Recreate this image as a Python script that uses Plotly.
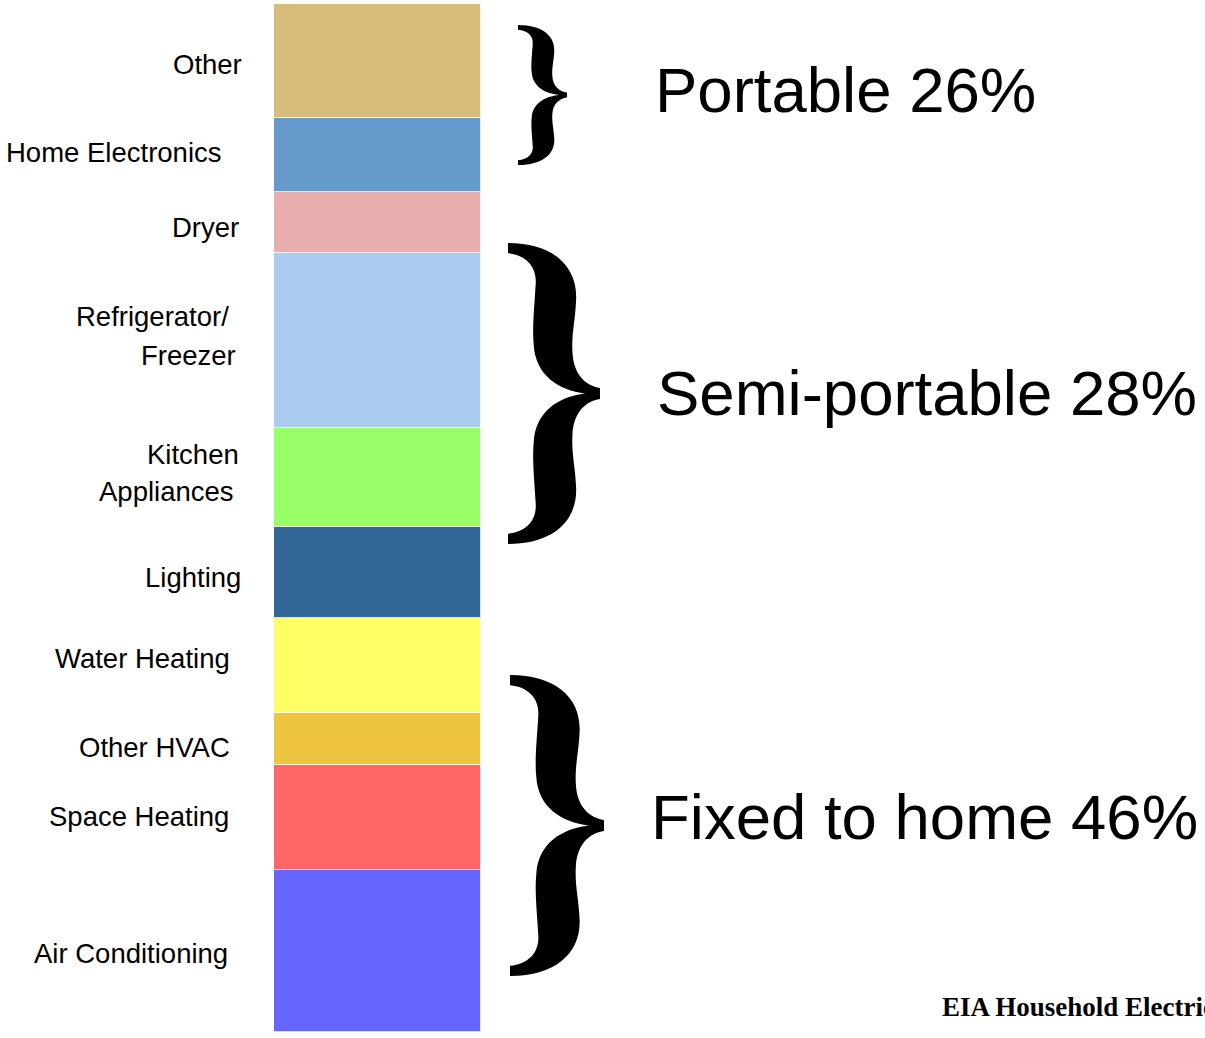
import plotly.graph_objects as go

# ---------------- data (bottom to top) ----------------
categories = ["Air Conditioning", "Space Heating", "Other HVAC", "Water Heating",
              "Lighting", "Kitchen Appliances", "Refrigerator/Freezer", "Dryer",
              "Home Electronics", "Other"]
shares = [15.8, 10.2, 5.1, 9.2, 8.9, 9.6, 17.1, 5.9, 7.2, 11.1]
label_lines = [["Air Conditioning"], ["Space Heating"], ["Other HVAC"], ["Water Heating"],
               ["Lighting"], ["Kitchen", "Appliances"], ["Refrigerator/", "Freezer"],
               ["Dryer"], ["Home Electronics"], ["Other"]]
group_labels = ["Portable 26%", "Semi-portable 28%", "Fixed to home 46%"]
source_note = "EIA Household Electricity Report"

# ---------------- styles / layout ----------------
colors = ["#6666FF", "#FF6666", "#EEC540", "#FFFF66", "#336699", "#99FF66",
          "#AACCEE", "#E8AEAE", "#6699CC", "#D9BC7B"]
W, H = 1205, 1038
L, R, T, B = 274, 481, 4, 1032  # plot area in pixels

# per-line label placement: (right edge px, vertical nudge px)
label_place = [[(228, -3)], [(229, 0.5)], [(230, -8.8)], [(230, 6.7)], [(241, -4.9)],
               [(239, 23.2), (234, -13.8)], [(229, 24.2), (236, -14.8)], [(239, -5.2)],
               [(222, 2.2)], [(242, -3.5)]]

# brace boxes (x0, x1, y0, y1) in pixels, and group label positions (left px, center y px)
brace_boxes = [(518, 567, 25, 165), (508, 600, 243, 544), (510, 604, 675, 976)]
group_pos = [(653, 90), (655, 393), (649, 817)]


def px2x(px):
    return (px - L) / (R - L)


def px2y(py):
    return (B - py) / (B - T)


def brace_path(x0, x1, y0, y1):
    def p(u, v):
        return f"{px2x(x0 + u * (x1 - x0)):.5f},{px2y(y0 + v * (y1 - y0)):.5f}"
    segs = [
        ("M", [(0, 0)]),
        ("C", [(0.5, 0.0), (0.76, 0.08), (0.74, 0.19)]),
        ("C", [(0.73, 0.26), (0.69, 0.30), (0.70, 0.36)]),
        ("C", [(0.71, 0.44), (0.85, 0.475), (1.0, 0.482)]),
        ("L", [(1.0, 0.518)]),
        ("C", [(0.85, 0.525), (0.71, 0.56), (0.70, 0.64)]),
        ("C", [(0.69, 0.70), (0.73, 0.74), (0.74, 0.81)]),
        ("C", [(0.76, 0.92), (0.5, 1.0), (0.0, 1.0)]),
        ("L", [(0.0, 0.966)]),
        ("C", [(0.2, 0.96), (0.32, 0.92), (0.30, 0.86)]),
        ("C", [(0.29, 0.80), (0.26, 0.72), (0.28, 0.66)]),
        ("C", [(0.30, 0.56), (0.55, 0.51), (0.84, 0.50)]),
        ("C", [(0.55, 0.49), (0.30, 0.44), (0.28, 0.34)]),
        ("C", [(0.26, 0.28), (0.29, 0.20), (0.30, 0.14)]),
        ("C", [(0.32, 0.08), (0.2, 0.04), (0.0, 0.034)]),
    ]
    out = ""
    for cmd, pts in segs:
        out += cmd + " " + " ".join(p(u, v) for u, v in pts) + " "
    return out + "Z"


fig = go.Figure()
for cat, val, col in zip(categories, shares, colors):
    fig.add_trace(go.Bar(x=[0], y=[val], name=cat, marker_color=col,
                         marker_line=dict(color="rgba(255,255,255,0.8)", width=1),
                         width=1, showlegend=False, hoverinfo="name+y"))

total = sum(shares)
annotations = []
base = 0
for lines, val, places in zip(label_lines, shares, label_place):
    center = base + val / 2
    for text, (rx, dy) in zip(lines, places):
        annotations.append(dict(
            x=0, xref="paper", y=center, yref="y", text=text, showarrow=False,
            xanchor="right", yanchor="middle", xshift=rx + 2 - L, yshift=dy,
            font=dict(family="Liberation Sans, Arial", size=27.5, color="black")))
    base += val

for text, (gx, gy) in zip(group_labels, group_pos):
    annotations.append(dict(
        x=px2x(gx), xref="paper", y=px2y(gy), yref="paper", text=text,
        showarrow=False, xanchor="left", yanchor="middle",
        font=dict(family="Liberation Sans, Arial", size=63.5, color="black")))

annotations.append(dict(
    x=px2x(940), xref="paper", y=px2y(1007), yref="paper", text="<b>" + source_note + "</b>",
    showarrow=False, xanchor="left", yanchor="middle",
    font=dict(family="Liberation Serif, Times New Roman", size=27, color="black")))

shapes = [dict(type="path", xref="paper", yref="paper", path=brace_path(*bb),
               fillcolor="black", line=dict(width=0), layer="above")
          for bb in brace_boxes]

fig.update_layout(
    width=W, height=H, barmode="stack",
    margin=dict(l=L, r=W - R, t=T, b=H - B, pad=0),
    paper_bgcolor="white", plot_bgcolor="white",
    xaxis=dict(visible=False, range=[-0.5, 0.5], fixedrange=True),
    yaxis=dict(visible=False, range=[0, total], fixedrange=True),
    annotations=annotations, shapes=shapes, bargap=0,
)

fig.write_html("out.html", config={"displayModeBar": False},
               post_script="document.body.style.margin='0px';document.body.style.overflow='hidden';")
